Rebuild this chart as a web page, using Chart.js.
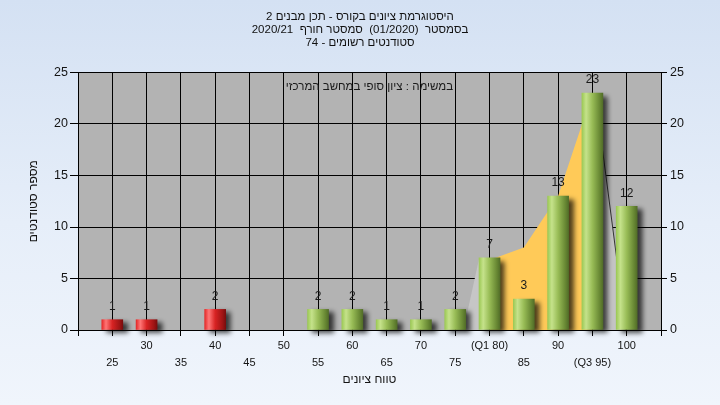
<!DOCTYPE html>
<html>
<head>
<meta charset="utf-8">
<script src="https://cdn.jsdelivr.net/npm/chart.js@4.4.1/dist/chart.umd.min.js"></script>
<style>
html,body{margin:0;padding:0;}
body{width:720px;height:405px;overflow:hidden;background:linear-gradient(180deg,#d4e1f3 0%,#e6eef9 55%,#f0f5fc 100%);}
#c{display:block;}
</style>
</head>
<body>
<canvas id="c" width="720" height="405"></canvas>
<script>
// ---- data ----
const grades = [25,30,35,40,45,50,55,60,65,70,75,80,85,90,95,100];
const counts = [1,1,0,2,0,0,2,2,1,1,2,7,3,13,23,12];
const quartileLabels = {80:'(Q1 80)', 95:'(Q3 95)'};
const lowTailX = [76.2, 78.5, 80];
const lowTailY = [0, 7, 7];
const iqrX = [80, 85, 90, 95];
const iqrY = [6.8, 8, 13, 23];
const highTailX = [95.4, 99.9];
const highTailY = [23, 0];
const passGrade = 55;
const titleLines = ['היסטוגרמת ציונים בקורס - תכן מבנים 2', 'בסמסטר  (01/2020)  סמסטר חורף  2020/21', 'סטודנטים רשומים - 74'];
const noteText = 'במשימה : ציון סופי במחשב המרכזי';
const xTitle = 'טווח ציונים';
const yTitle = 'מספר סטודנטים';

const FONT = "'Liberation Sans', 'DejaVu Sans', Arial, sans-serif";
Chart.defaults.font.family = FONT;
Chart.defaults.color = '#141414';

const toPts = (xs, ys) => xs.map((x, i) => ({x, y: ys[i]}));
const BAR_W = 21;

function barGradient(ctx) {
  const chart = ctx.chart;
  const g = grades[ctx.dataIndex];
  const v = counts[ctx.dataIndex];
  if (!v) return 'rgba(0,0,0,0)';
  const red = g < passGrade;
  if (!chart.chartArea || g === undefined) return red ? '#d92626' : '#9abd58';
  const cx = chart.scales.x.getPixelForValue(g);
  const gr = chart.ctx.createLinearGradient(cx - BAR_W / 2, 0, cx + BAR_W / 2, 0);
  if (red) {
    gr.addColorStop(0, '#e42a2a');
    gr.addColorStop(0.2, '#ff7676');
    gr.addColorStop(0.5, '#d82323');
    gr.addColorStop(0.85, '#9e1414');
    gr.addColorStop(1, '#7a0d0d');
  } else {
    gr.addColorStop(0, '#9cc955');
    gr.addColorStop(0.2, '#c5e28b');
    gr.addColorStop(0.5, '#98bc56');
    gr.addColorStop(0.85, '#678733');
    gr.addColorStop(1, '#526d28');
  }
  return gr;
}

const plotBg = {
  id: 'plotBg',
  beforeDraw(chart) {
    const {ctx, chartArea: a} = chart;
    ctx.save();
    ctx.fillStyle = '#b3b3b3';
    ctx.fillRect(a.left, a.top, a.right - a.left, a.bottom - a.top);
    ctx.restore();
  },
  beforeDatasetsDraw(chart) {
    const {ctx, chartArea: a} = chart;
    ctx.save();
    ctx.font = '11.5px ' + FONT;
    ctx.fillStyle = '#1a1a1a';
    ctx.textAlign = 'center';
    ctx.textBaseline = 'middle';
    ctx.direction = 'rtl';
    ctx.fillText(noteText, (a.left + a.right) / 2, a.top + 14);
    ctx.restore();
  }
};

const barShadow = {
  id: 'barShadow',
  beforeDatasetDraw(chart, args) {
    if (args.meta.type !== 'bar') return;
    const c = chart.ctx;
    c.save();
    c.shadowColor = 'rgba(0,0,0,0.7)';
    c.shadowBlur = 5;
    c.shadowOffsetX = 5;
    c.shadowOffsetY = 3;
  },
  afterDatasetDraw(chart, args) {
    if (args.meta.type !== 'bar') return;
    chart.ctx.restore();
  }
};

const barLabels = {
  id: 'barLabels',
  afterDatasetsDraw(chart) {
    const ctx = chart.ctx;
    chart.data.datasets.forEach((ds, di) => {
      const meta = chart.getDatasetMeta(di);
      if (meta.type !== 'bar') return;
      meta.data.forEach((el, i) => {
        const v = counts[i];
        if (!v) return;
        ctx.save();
        ctx.font = '12px ' + FONT;
        ctx.fillStyle = '#1a1a1a';
        ctx.textAlign = 'center';
        ctx.textBaseline = 'middle';
        ctx.fillText(String(v), el.x, el.y - 13);
        ctx.restore();
      });
    });
  }
};

new Chart(document.getElementById('c'), {
  type: 'bar',
  data: {
    datasets: [
      {
        type: 'bar',
        data: toPts(grades, counts),
        backgroundColor: barGradient,
        borderWidth: 0,
        barThickness: BAR_W,
        clip: false,
        order: 0
      },
      {
        type: 'line',
        data: toPts(lowTailX, lowTailY),
        fill: 'origin',
        backgroundColor: '#c6c6c6',
        borderWidth: 0,
        pointRadius: 0,
        tension: 0,
        order: 2
      },
      {
        type: 'line',
        data: toPts(highTailX, highTailY),
        fill: 'origin',
        backgroundColor: '#c4c4c4',
        borderColor: '#333333',
        borderWidth: 1,
        pointRadius: 0,
        tension: 0,
        order: 2
      },
      {
        type: 'line',
        data: toPts(iqrX, iqrY),
        fill: 'origin',
        backgroundColor: '#ffca58',
        borderWidth: 0,
        pointRadius: 0,
        tension: 0,
        order: 1
      }
    ]
  },
  options: {
    responsive: false,
    animation: false,
    devicePixelRatio: 1,
    layout: {padding: {left: 0, right: 0, top: 0, bottom: 0}},
    plugins: {
      legend: {display: false},
      tooltip: {enabled: false},
      title: {
        display: true,
        text: titleLines,
        font: {size: 11.5, weight: 'normal', lineHeight: 13 / 11.5},
        color: '#111',
        padding: {top: 10.5, bottom: 23}
      }
    },
    scales: {
      x: {
        type: 'linear',
        min: 20,
        max: 105,
        offset: false,
        grid: {color: '#000', lineWidth: 1, tickLength: 6, offset: false, drawTicks: true},
        border: {color: '#000'},
        ticks: {
          stepSize: 5,
          autoSkip: false,
          maxRotation: 0,
          minRotation: 0,
          padding: 1,
          font: {size: 11, lineHeight: 17 / 11},
          callback: (v) => {
            const i = grades.indexOf(v);
            if (i < 0) return '';
            const lab = quartileLabels[v] || String(v);
            return (i % 2 === 0) ? ['', lab] : [lab, ''];
          }
        },
        title: {display: true, text: xTitle, font: {size: 12}, padding: {top: 0, bottom: 18}},
        afterFit: (s) => { s.height = 75; }
      },
      y: {
        position: 'left',
        min: 0,
        max: 25,
        grid: {color: '#000', lineWidth: 1, tickLength: 8},
        border: {color: '#000'},
        ticks: {stepSize: 5, padding: 2, font: {size: 12.5}},
        title: {display: true, text: yTitle, font: {size: 12}, padding: {top: 26, bottom: 0}},
        afterFit: (s) => { s.width = 78; }
      },
      y2: {
        position: 'right',
        min: 0,
        max: 25,
        grid: {drawOnChartArea: false, color: '#000', tickLength: 6},
        border: {color: '#000'},
        ticks: {stepSize: 5, padding: 3, font: {size: 12.5}},
        afterFit: (s) => { s.width = 59; }
      }
    }
  },
  plugins: [plotBg, barShadow, barLabels]
});
</script>
</body>
</html>
